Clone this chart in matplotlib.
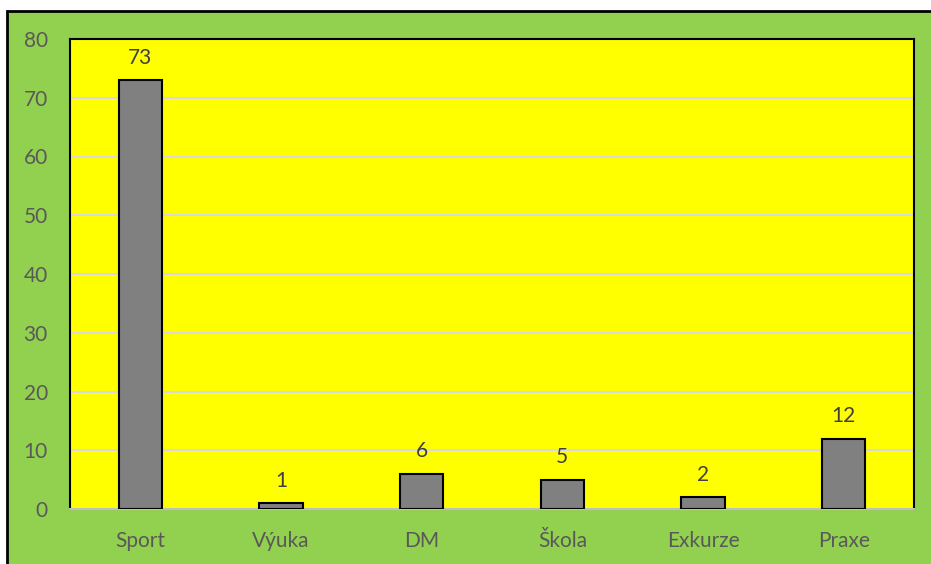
import matplotlib
matplotlib.use("Agg")
import matplotlib.pyplot as plt
from matplotlib.patches import Rectangle

categories = ["Sport", "Výuka", "DM", "Škola", "Exkurze", "Praxe"]
values = [73, 1, 6, 5, 2, 12]
yticks = [0, 10, 20, 30, 40, 50, 60, 70, 80]

plt.rcParams['font.family'] = ['Lato', 'DejaVu Sans']

W, H = 931, 564
fig = plt.figure(figsize=(W/100, H/100), dpi=100, facecolor='white')

# green chart area with black border (top & left visible)
fig.patches.append(Rectangle((6.5/W, -0.2), 1.2, 1.2 - 10.5/H, transform=fig.transFigure,
                             facecolor='#92D050', edgecolor='black', linewidth=2, zorder=-10))

ax = fig.add_axes([70/W, 1 - 509/H, (914-70)/W, (509-39)/H])
ax.set_zorder(5)
ax.set_facecolor('#FFFF00')
x = range(len(categories))
bars = ax.bar(x, values, width=0.31, color='#808080', edgecolor='black', linewidth=1.5, zorder=3)
ax.set_xlim(-0.5, len(categories) - 0.5)
ax.set_ylim(0, 80)
ax.set_yticks(yticks)
ax.set_xticks(list(x))
ax.set_xticklabels(categories)
ax.yaxis.grid(True, color='#D9D9D9', linewidth=1.5, zorder=1)
ax.set_axisbelow(True)
ax.tick_params(axis='both', length=0, labelsize=15, colors='#595959')
ax.tick_params(axis='x', pad=16)
ax.tick_params(axis='y', pad=16)
for lab in ax.get_yticklabels():
    lab.set_horizontalalignment('right')
for s in ['left', 'top', 'right']:
    ax.spines[s].set_color('black')
    ax.spines[s].set_linewidth(1.5)
ax.spines['bottom'].set_color('#BFBFBF')
ax.spines['bottom'].set_linewidth(1.5)

for xi, v in zip(x, values):
    ax.annotate(str(v), (xi, v), xytext=(0, 9), textcoords='offset points',
                ha='center', va='bottom', fontsize=15, color='#404040')

fig.savefig('out.png', dpi=100, facecolor='white')
